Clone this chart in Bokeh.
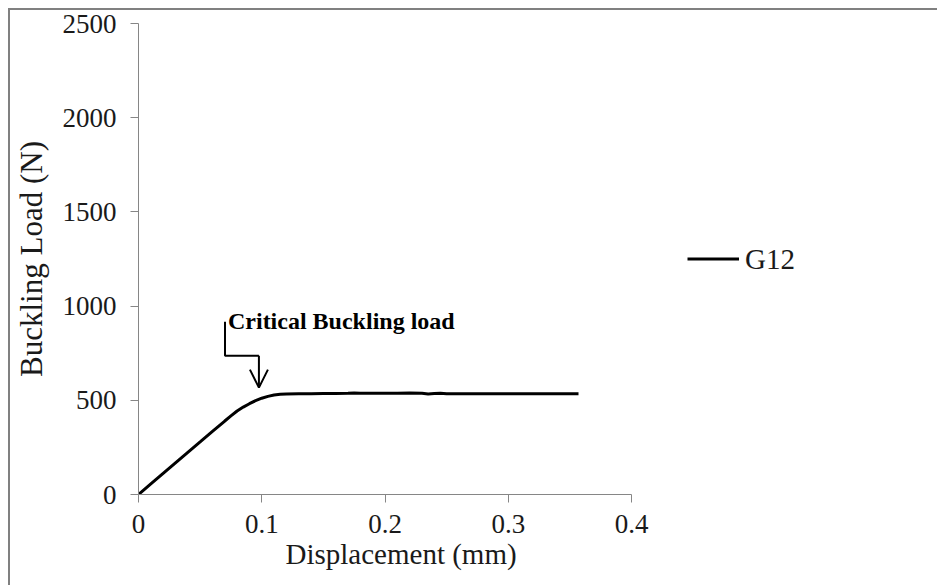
from bokeh.plotting import figure
from bokeh.models import (FixedTicker, Legend, LegendItem, Arrow, OpenHead,
                          Label, Range1d, Title)
from bokeh.embed import file_html
from bokeh.resources import INLINE

# ---- data ----
displacement_mm = [0, 0.01, 0.02, 0.03, 0.04, 0.05, 0.06, 0.07, 0.075, 0.08,
                   0.085, 0.09, 0.095, 0.10, 0.105, 0.11, 0.115, 0.12, 0.13,
                   0.14, 0.15, 0.16, 0.17, 0.175, 0.18, 0.19, 0.20, 0.21,
                   0.22, 0.23, 0.235, 0.24, 0.245, 0.25, 0.26, 0.28, 0.30,
                   0.32, 0.34, 0.357]
load_N = [0, 56, 112, 168, 224, 279, 335, 390, 417, 443,
          464, 482, 498, 511, 521, 528, 532, 534, 535,
          535, 536, 536, 537, 539, 538, 538, 538, 538,
          539, 538, 534, 536, 538, 535, 535, 535, 535,
          535, 535, 535]
series_name = "G12"

x_ticks = [0, 0.1, 0.2, 0.3, 0.4]
x_tick_labels = ["0", "0.1", "0.2", "0.3", "0.4"]
y_ticks = [0, 500, 1000, 1500, 2000, 2500]
x_title = "Displacement (mm)"
y_title = "Buckling Load (N)"

annotation_text = "Critical Buckling load"
# bracket path of the annotation arrow (data units)
bracket_x = [0.0702, 0.0702, 0.0977]
bracket_y = [917, 737, 737]
arrow_end = (0.0977, 567)

FONT = "Liberation Serif"
AXIS_GREY = "#868686"
TEXT = "#1a1a1a"

p = figure(frame_width=493, frame_height=471,
           min_border_left=127, min_border_right=307,
           min_border_top=13, min_border_bottom=91,
           x_range=Range1d(0, 0.4), y_range=Range1d(0, 2500),
           output_backend="svg", toolbar_location=None)
p.styles = {"border-top": "2px solid #808080",
            "border-left": "2px solid #808080",
            "margin-left": "8px", "margin-top": "8px"}
p.outline_line_color = None
p.xgrid.visible = False
p.ygrid.visible = False
p.background_fill_color = "white"
p.border_fill_color = "white"

# axes
p.xaxis.ticker = FixedTicker(ticks=x_ticks)
p.xaxis.major_label_overrides = {t: l for t, l in zip(x_ticks, x_tick_labels)}
p.yaxis.ticker = FixedTicker(ticks=y_ticks)
for ax in (p.xaxis, p.yaxis):
    ax.axis_line_color = AXIS_GREY
    ax.major_tick_line_color = AXIS_GREY
    ax.minor_tick_line_color = None
    ax.major_tick_in = 0
    ax.major_tick_out = 8
    ax.major_label_text_font = FONT
    ax.major_label_text_font_size = "27px"
    ax.major_label_text_color = TEXT
    ax.axis_label_text_font = FONT
    ax.axis_label_text_font_style = "normal"
    ax.axis_label_text_color = TEXT
p.yaxis.axis_label_text_font_size = "31px"
p.yaxis.axis_label = y_title
p.xaxis.major_label_standoff = 12
p.yaxis.major_label_standoff = 14
p.yaxis.axis_label_standoff = 11

# x-axis title (sits a little right of centre, as in the reference)
p.add_layout(Title(text=x_title, align="left", offset=147,
                   text_font=FONT, text_font_size="29px",
                   text_font_style="normal", text_color=TEXT,
                   standoff=0), "below")

# data line
r = p.line(displacement_mm, load_N, line_color="black", line_width=3)

# annotation
p.line(bracket_x, bracket_y, line_color="black", line_width=2)
p.add_layout(Arrow(end=OpenHead(size=18, line_width=2, line_color="black"),
                   x_start=bracket_x[-1], y_start=bracket_y[-1],
                   x_end=arrow_end[0], y_end=arrow_end[1],
                   line_width=2, line_color="black"))
p.add_layout(Label(x=0.0726, y=922, text=annotation_text,
                   text_font=FONT, text_font_size="24px",
                   text_font_style="bold", text_color="black",
                   text_baseline="alphabetic"))

# legend (outside the plot area, on the right)
legend = Legend(items=[LegendItem(label=series_name, renderers=[r])],
                location="left", glyph_width=52, glyph_height=30,
                label_standoff=6, padding=0, margin=56,
                border_line_alpha=0, background_fill_alpha=0,
                label_text_font=FONT, label_text_font_size="29px",
                label_text_color=TEXT)
p.add_layout(legend, "right")

open("out.html", "w").write(file_html(p, INLINE))
